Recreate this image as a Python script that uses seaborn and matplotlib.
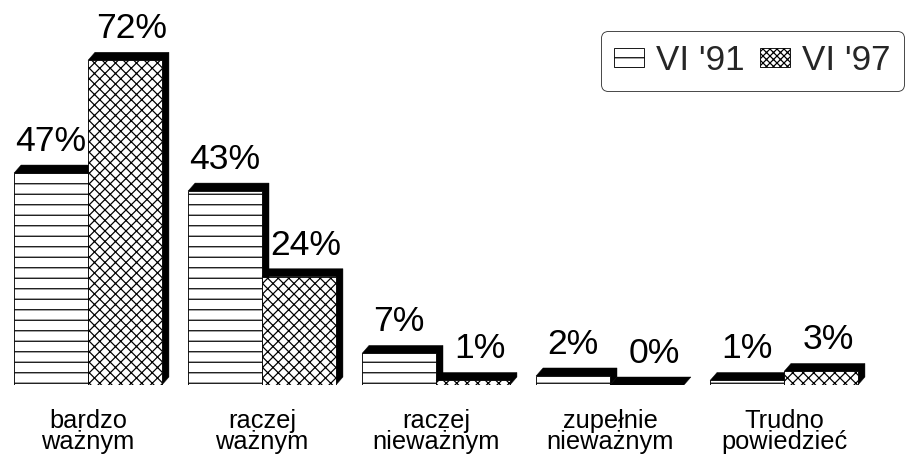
import numpy as np
import pandas as pd
import matplotlib.pyplot as plt
from matplotlib.patches import Polygon, Patch
import seaborn as sns

# Survey answers, two waves
categories = ["bardzo\nważnym", "raczej\nważnym", "raczej\nnieważnym",
              "zupełnie\nnieważnym", "Trudno\npowiedzieć"]
periods = ["VI '91", "VI '97"]
vi_91 = [47, 43, 7, 2, 1]
vi_97 = [72, 24, 1, 0, 3]

df = pd.DataFrame({
    "category": categories * 2,
    "period": [periods[0]] * 5 + [periods[1]] * 5,
    "value": vi_91 + vi_97,
})

sns.set_style("white")
plt.rcParams["font.family"] = ["Liberation Sans", "DejaVu Sans"]
plt.rcParams["hatch.linewidth"] = 1.4

DPI = 63
fig = plt.figure(figsize=(907 / DPI, 455 / DPI), dpi=DPI)
ax = fig.add_axes([0, 70 / 455, 1, 385 / 455])

sns.barplot(data=df, x="category", y="value", hue="period",
            palette=["white", "white"], edgecolor="black", linewidth=1,
            width=0.85, legend=False, ax=ax)

ax.set_xlim(-88 / 174, -88 / 174 + 907 / 174)
ax.set_ylim(0, 385 / 4.51)

# fake 3d: black top + right side behind every bar
dx, dy = 7 / 174, 8 / 4.51
hatches = ["-", "xx"]
for k, (cont, hatch) in enumerate(zip(ax.containers, hatches)):
    for bar in cont:
        bar.set_hatch(hatch)
        bar.set_zorder(2 + 2 * k)
        x0, w, h = bar.get_x(), bar.get_width(), bar.get_height()
        x1 = x0 + w
        pts = [(x0, h), (x0 + dx, h + dy), (x1 + dx, h + dy),
               (x1 + dx, dy), (x1, 0), (x1, h)]
        ax.add_patch(Polygon(pts, closed=True, facecolor="black",
                             edgecolor="black", linewidth=0.5,
                             zorder=1.5 + 2 * k))
        ax.annotate(f"{int(h)}%", (x0 + w / 2 + k * dx, h), xytext=(0, 22),
                    textcoords="offset pixels", ha="center", va="baseline",
                    fontsize=40.5, color="black")

for s in ax.spines.values():
    s.set_visible(False)
ax.set_yticks([])
ax.set_xlabel("")
ax.set_ylabel("")
ax.tick_params(axis="x", length=0, pad=27, labelsize=29, labelcolor="black")
for lbl in ax.get_xticklabels():
    lbl.set_linespacing(0.88)

handles = [Patch(facecolor="white", edgecolor="black", hatch=h) for h in ["-", "xxx"]]
leg = ax.legend(handles, periods, loc="upper right",
                bbox_to_anchor=(904 / 907, 1 - 31 / 385),
                ncol=2, fontsize=40, frameon=True, fancybox=True,
                handlelength=0.85, handleheight=0.45, handletextpad=0.35,
                columnspacing=0.45, borderpad=0.38, borderaxespad=0)
leg.get_frame().set_edgecolor("black")
leg.get_frame().set_linewidth(1)

fig.savefig("out.png", dpi=DPI)
